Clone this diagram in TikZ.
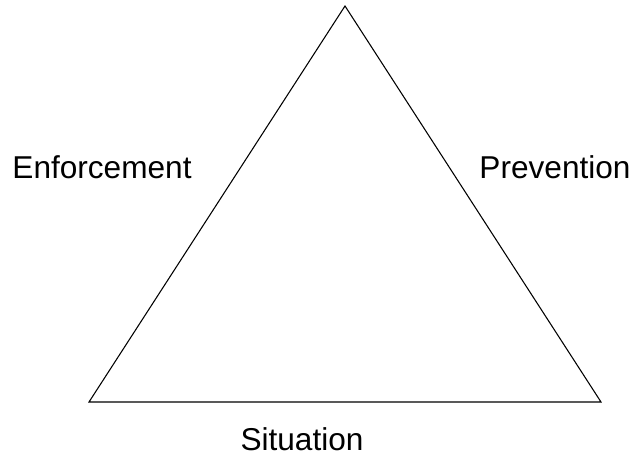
\documentclass[tikz,border=0pt]{standalone}
\usepackage{fontspec}
\setmainfont{Liberation Sans}
\usepackage{tikz}
\usetikzlibrary{positioning}

\tikzset{
  side/.style={anchor=base, font=\fontsize{23.7}{28}\selectfont},
  edge/.style={line width=0.8pt, line join=miter}
}

\begin{document}
\begin{tikzpicture}[x=0.75pt, y=-0.75pt]
\useasboundingbox (0,0) rectangle (634,459);

\coordinate (top) at (345,6);
\coordinate (left) at (89,402);
\coordinate (right) at (601,402);
\draw[edge] (top) -- (right) -- (left) -- cycle;

\node[side] (enf) at (102,179) {Enforcement};
\node[side] (prev) at (555,179) {Prevention};
\node[side] (sit) at (302,450) {Situation};
\end{tikzpicture}
\end{document}
